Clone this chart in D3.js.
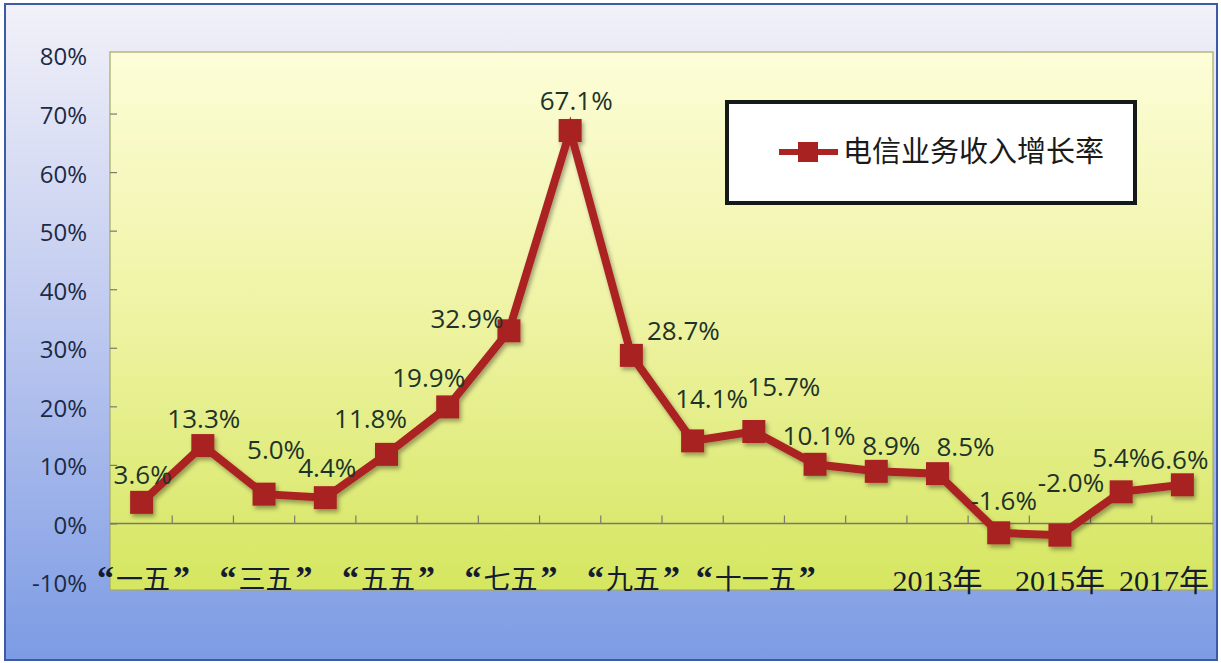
<!DOCTYPE html>
<html>
<head>
<meta charset="utf-8">
<script src="https://cdn.jsdelivr.net/npm/d3@7"></script>
<style>
  html, body { margin: 0; padding: 0; background: #ffffff; }
  svg { display: block; }
</style>
</head>
<body>
<svg id="chart" width="1221" height="663"></svg>
<script>
// ---- data ----
const categories = ["一五","二五","三五","四五","五五","六五","七五","八五","九五","十五","十一五",
  "2011年","2012年","2013年","2014年","2015年","2016年","2017年"];
const tickLabels = ["“一五”","","“三五”","","“五五”","","“七五”","","“九五”","","“十一五”",
  "","","2013年","","2015年","","2017年"];
const growth = [3.6, 13.3, 5.0, 4.4, 11.8, 19.9, 32.9, 67.1, 28.7, 14.1, 15.7, 10.1, 8.9, 8.5, -1.6, -2.0, 5.4, 6.6];
const yTicks = [-10, 0, 10, 20, 30, 40, 50, 60, 70, 80];
const seriesName = "电信业务收入增长率";
// label placement offsets (layout only)
const labelDx = [1, 1, 12, 2, -16, -19, -42, 6, 52, 19, 30, 4, 15, 28, 5, 11, 0, -3];
const labelDy = [-27, -27, -44, -30, -35, -29, -12, -30, -24, -42, -45, -28, -25, -27, -32, -52, -34, -25];

const svg = d3.select("#chart");
const plot = { left: 110, right: 1213, top: 52, bottom: 590 };

const defs = svg.append("defs");
const og = defs.append("linearGradient").attr("id", "outerG").attr("x1", 0).attr("y1", 0).attr("x2", 0).attr("y2", 1);
og.append("stop").attr("offset", "0%").attr("stop-color", "#f2f1f8");
og.append("stop").attr("offset", "45%").attr("stop-color", "#c2ccf0");
og.append("stop").attr("offset", "100%").attr("stop-color", "#7c9be4");
const pg = defs.append("linearGradient").attr("id", "plotG").attr("x1", 0).attr("y1", 0).attr("x2", 0).attr("y2", 1);
pg.append("stop").attr("offset", "0%").attr("stop-color", "#fdfdd8");
pg.append("stop").attr("offset", "50%").attr("stop-color", "#eef3a2");
pg.append("stop").attr("offset", "100%").attr("stop-color", "#d5e660");
const sh = defs.append("filter").attr("id", "shadow").attr("x", "-10%").attr("y", "-10%").attr("width", "130%").attr("height", "130%");
sh.append("feDropShadow").attr("dx", 2).attr("dy", 3).attr("stdDeviation", 2).attr("flood-color", "#000").attr("flood-opacity", 0.35);

// outer frame
svg.append("rect").attr("x", 5).attr("y", 4).attr("width", 1212).attr("height", 656)
  .attr("fill", "url(#outerG)").attr("stroke", "#3b5ba6").attr("stroke-width", 2);

// plot area
svg.append("rect").attr("x", plot.left).attr("y", plot.top)
  .attr("width", plot.right - plot.left).attr("height", plot.bottom - plot.top)
  .attr("fill", "url(#plotG)").attr("stroke", "#a3a86a").attr("stroke-width", 1.2);

const x = d3.scaleBand().domain(categories).range([111, 1213]);
const y = d3.scaleLinear().domain([-10, 80]).range([582, 55]);
const cx = d => x(d) + x.bandwidth() / 2;

// y axis ticks (inside) and labels
const yAxis = d3.axisRight(y).tickValues(yTicks).tickSize(7).tickFormat("");
const yg = svg.append("g").attr("transform", `translate(${plot.left},0)`).call(yAxis);
yg.select(".domain").remove();
yg.selectAll(".tick line").attr("stroke", "#7a7a6a").attr("stroke-width", 1.2);
yg.selectAll(".tick").filter(d => d === -10 || d === 80).remove();

svg.append("g").selectAll("text").data(yTicks).join("text")
  .attr("x", 87).attr("y", d => y(d) + 2).attr("dy", "0.35em")
  .attr("text-anchor", "end")
  .attr("font-family", "'Open Sans', 'Noto Sans', sans-serif")
  .attr("font-size", 24).attr("fill", "#1c2a45")
  .text(d => d + "%");

// x axis at 0
const boundaries = categories.slice(1).map(c => x(c));
const xg = svg.append("g");
xg.append("line").attr("x1", plot.left).attr("x2", plot.right).attr("y1", y(0)).attr("y2", y(0))
  .attr("stroke", "#7a7a6a").attr("stroke-width", 1.5);
xg.selectAll("line.tk").data(boundaries).join("line").attr("class", "tk")
  .attr("x1", d => d).attr("x2", d => d).attr("y1", y(0)).attr("y2", y(0) - 8)
  .attr("stroke", "#7a7a6a").attr("stroke-width", 1.2);

// category labels
const isYear = t => /^\d/.test(t);
const labs = svg.append("g").selectAll("text")
  .data(categories.map((c, i) => ({ c, t: tickLabels[i], i })).filter(d => d.t))
  .join("text")
  .attr("x", d => d.i === categories.length - 1 ? 1209 : cx(d.c) + (isYear(d.t) ? 0 : 2))
  .attr("y", d => isYear(d.t) ? 591 : 589)
  .attr("text-anchor", d => d.i === categories.length - 1 ? "end" : "middle")
  .attr("font-family", "'Liberation Serif', 'Noto Sans CJK SC', serif")
  .attr("font-size", d => isYear(d.t) ? 30 : 27)
  .attr("fill", "#151b30");
labs.each(function(d) {
  const el = d3.select(this);
  if (isYear(d.t)) { el.text(d.t); return; }
  const parts = [d.t[0], d.t.slice(1, -1), d.t[d.t.length - 1]];
  el.append("tspan").attr("font-size", 34).attr("font-weight", "bold").attr("dx", 0).text(parts[0]);
  el.append("tspan").attr("font-family", "'Noto Sans CJK SC', sans-serif").attr("dx", 2).text(parts[1]);
  el.append("tspan").attr("font-size", 34).attr("font-weight", "bold").attr("dx", 3).text(parts[2]);
});

// line
const line = d3.line().x((d, i) => cx(categories[i])).y(d => y(d));
const g = svg.append("g").attr("filter", "url(#shadow)");
g.append("path").datum(growth).attr("d", line)
  .attr("fill", "none").attr("stroke", "#ab2424").attr("stroke-width", 8).attr("stroke-linejoin", "miter");
const ms = 23;
g.selectAll("rect.m").data(growth).join("rect").attr("class", "m")
  .attr("x", (d, i) => cx(categories[i]) - ms / 2).attr("y", d => y(d) - ms / 2)
  .attr("width", ms).attr("height", ms).attr("fill", "#a82222");

// data labels
svg.append("g").selectAll("text").data(growth).join("text")
  .attr("x", (d, i) => cx(categories[i]) + labelDx[i])
  .attr("y", (d, i) => y(d) + labelDy[i])
  .attr("dy", "0.35em").attr("text-anchor", "middle")
  .attr("font-family", "'Open Sans', 'Noto Sans', sans-serif")
  .attr("font-size", 26).attr("fill", "#1e3328")
  .text(d => d.toFixed(1) + "%");

// legend
const lg = svg.append("g");
lg.append("rect").attr("x", 727).attr("y", 102).attr("width", 408).attr("height", 101)
  .attr("fill", "#ffffff").attr("stroke", "#141a18").attr("stroke-width", 4);
lg.append("line").attr("x1", 779).attr("x2", 838).attr("y1", 152).attr("y2", 152)
  .attr("stroke", "#ab2424").attr("stroke-width", 6);
lg.append("rect").attr("x", 798).attr("y", 142).attr("width", 20).attr("height", 20).attr("fill", "#a82222");
lg.append("text").attr("x", 843).attr("y", 152).attr("dy", "0.36em")
  .attr("font-family", "'Noto Sans CJK SC', sans-serif").attr("font-size", 29).attr("fill", "#1a1a1a")
  .text(seriesName);
</script>
</body>
</html>
